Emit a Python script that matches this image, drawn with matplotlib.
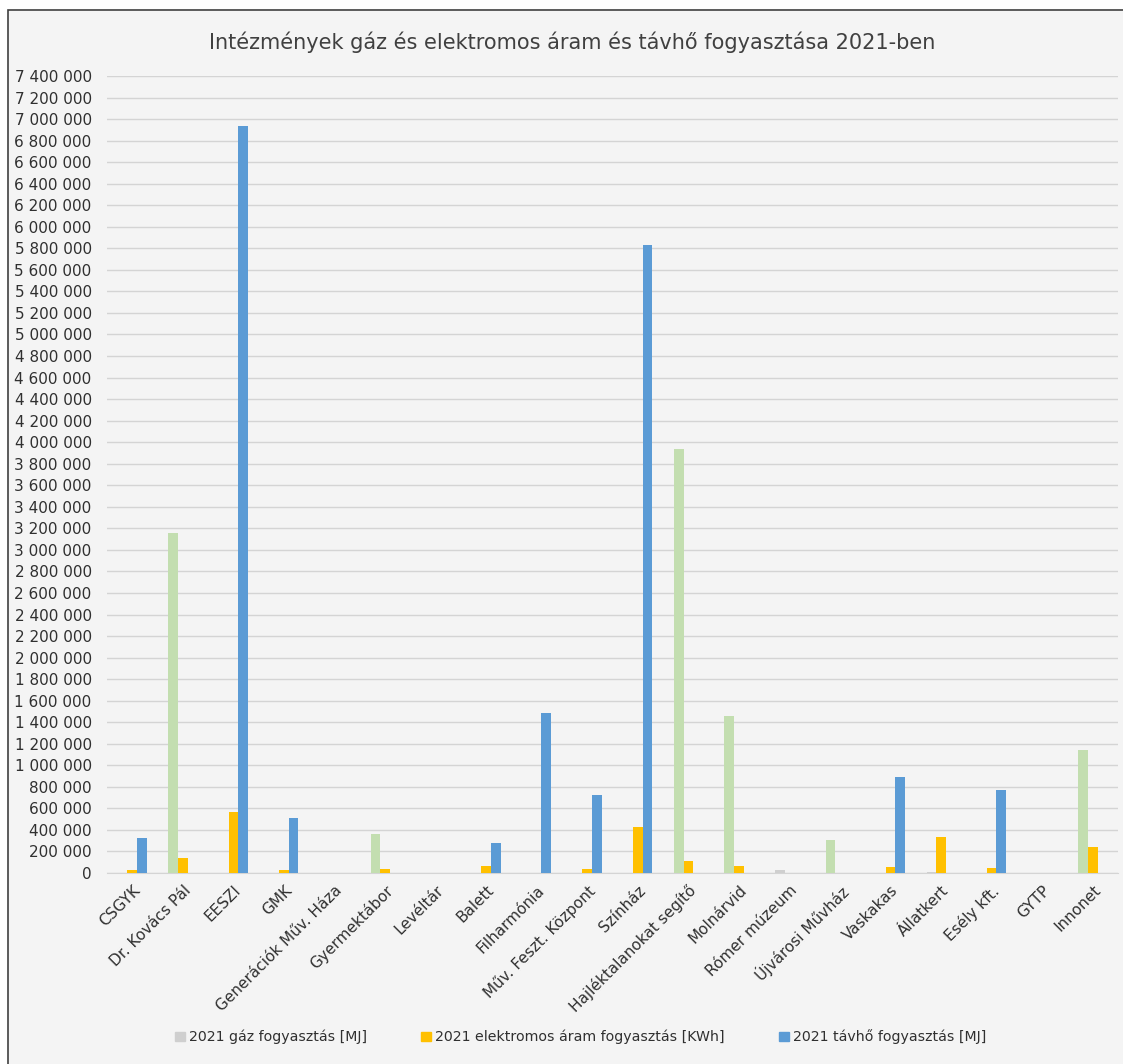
import numpy as np
import matplotlib.pyplot as plt
from matplotlib.patches import Rectangle, Patch


categories = ["CSGYK", "Dr. Kovács Pál", "EESZI", "GMK", "Generációk Műv. Háza",
              "Gyermektábor", "Levéltár", "Balett", "Filharmónia", "Műv. Feszt. Központ",
              "Színház", "Hajléktalanokat segítő", "Molnárvid", "Rómer múzeum",
              "Újvárosi Művház", "Vaskakas", "Állatkert", "Esély kft.", "GYTP", "Innonet"]

gas = [0, 3157000, 0, 0, 0, 362000, 0, 0, 0, 0,
       0, 3937000, 1460000, 28000, 306000, 0, 12000, 0, 0, 1142000]
electricity = [28000, 142000, 569000, 28000, 0, 37000, 0, 65000, 0, 40000,
               430000, 111000, 65000, 0, 0, 53000, 331000, 44000, 0, 239000]
district_heat = [327000, 0, 6936000, 513000, 0, 0, 0, 276000, 1488000, 721000,
                 5831000, 0, 0, 0, 0, 894000, 0, 771000, 0, 0]

series_labels = ["2021 gáz fogyasztás [MJ]",
                 "2021 elektromos áram fogyasztás [KWh]",
                 "2021 távhő fogyasztás [MJ]"]

green = "#c3deb0"
grey = "#cfcfcf"
yellow = "#ffc000"
blue = "#5b9bd5"
bg = "#f4f4f4"

fig = plt.figure(figsize=(11.23, 10.64), dpi=100, facecolor="white")
fig.patches.append(Rectangle((8 / 1123, -0.01), 1.05, 1.01 - 10 / 1064,
                             transform=fig.transFigure, facecolor=bg,
                             edgecolor="#404040", linewidth=1.2, zorder=-10))

ax = fig.add_axes([107 / 1123, 1 - 873 / 1064, 1011 / 1123, (873 - 76) / 1064])
ax.set_facecolor("none")

x = np.arange(len(categories))
w = 0.19
gas_colors = [green if v >= 100000 else grey for v in gas]
ax.bar(x - w, gas, w, color=gas_colors, zorder=3)
ax.bar(x, electricity, w, color=yellow, zorder=3)
ax.bar(x + w, district_heat, w, color=blue, zorder=3)

ax.set_xlim(-0.5, len(categories) - 0.5)
ax.set_ylim(0, 7400000)
yt = np.arange(0, 7400001, 200000)
ax.set_yticks(yt)
ax.set_yticklabels([f"{int(v):,}".replace(",", " ") for v in yt], fontsize=11, color="#303030")
ax.grid(axis="y", color="#d4d4d4", linewidth=1, zorder=0)
for s in ["top", "right", "left"]:
    ax.spines[s].set_visible(False)
ax.spines["bottom"].set_color("#d4d4d4")
ax.tick_params(axis="y", length=0, pad=11)
ax.tick_params(axis="x", length=0, pad=7)
ax.set_xticks(x)
ax.set_xticklabels(categories, rotation=45, ha="right", rotation_mode="anchor",
                   fontsize=11, color="#303030")

fig.text(572 / 1123, 1 - 42 / 1064,
         "Intézmények gáz és elektromos áram és távhő fogyasztása 2021-ben",
         ha="center", va="center", fontsize=15, color="#404040")

handles = [Patch(color=grey), Patch(color=yellow), Patch(color=blue)]
fig.legend(handles, series_labels, loc="center", bbox_to_anchor=(0.517, 1 - 1037 / 1064),
           ncol=3, frameon=False, fontsize=10.2, handlelength=0.7, handleheight=0.7,
           handletextpad=0.3, columnspacing=3.8, labelcolor="#303030")

fig.savefig("out.png", dpi=100, facecolor="white")
